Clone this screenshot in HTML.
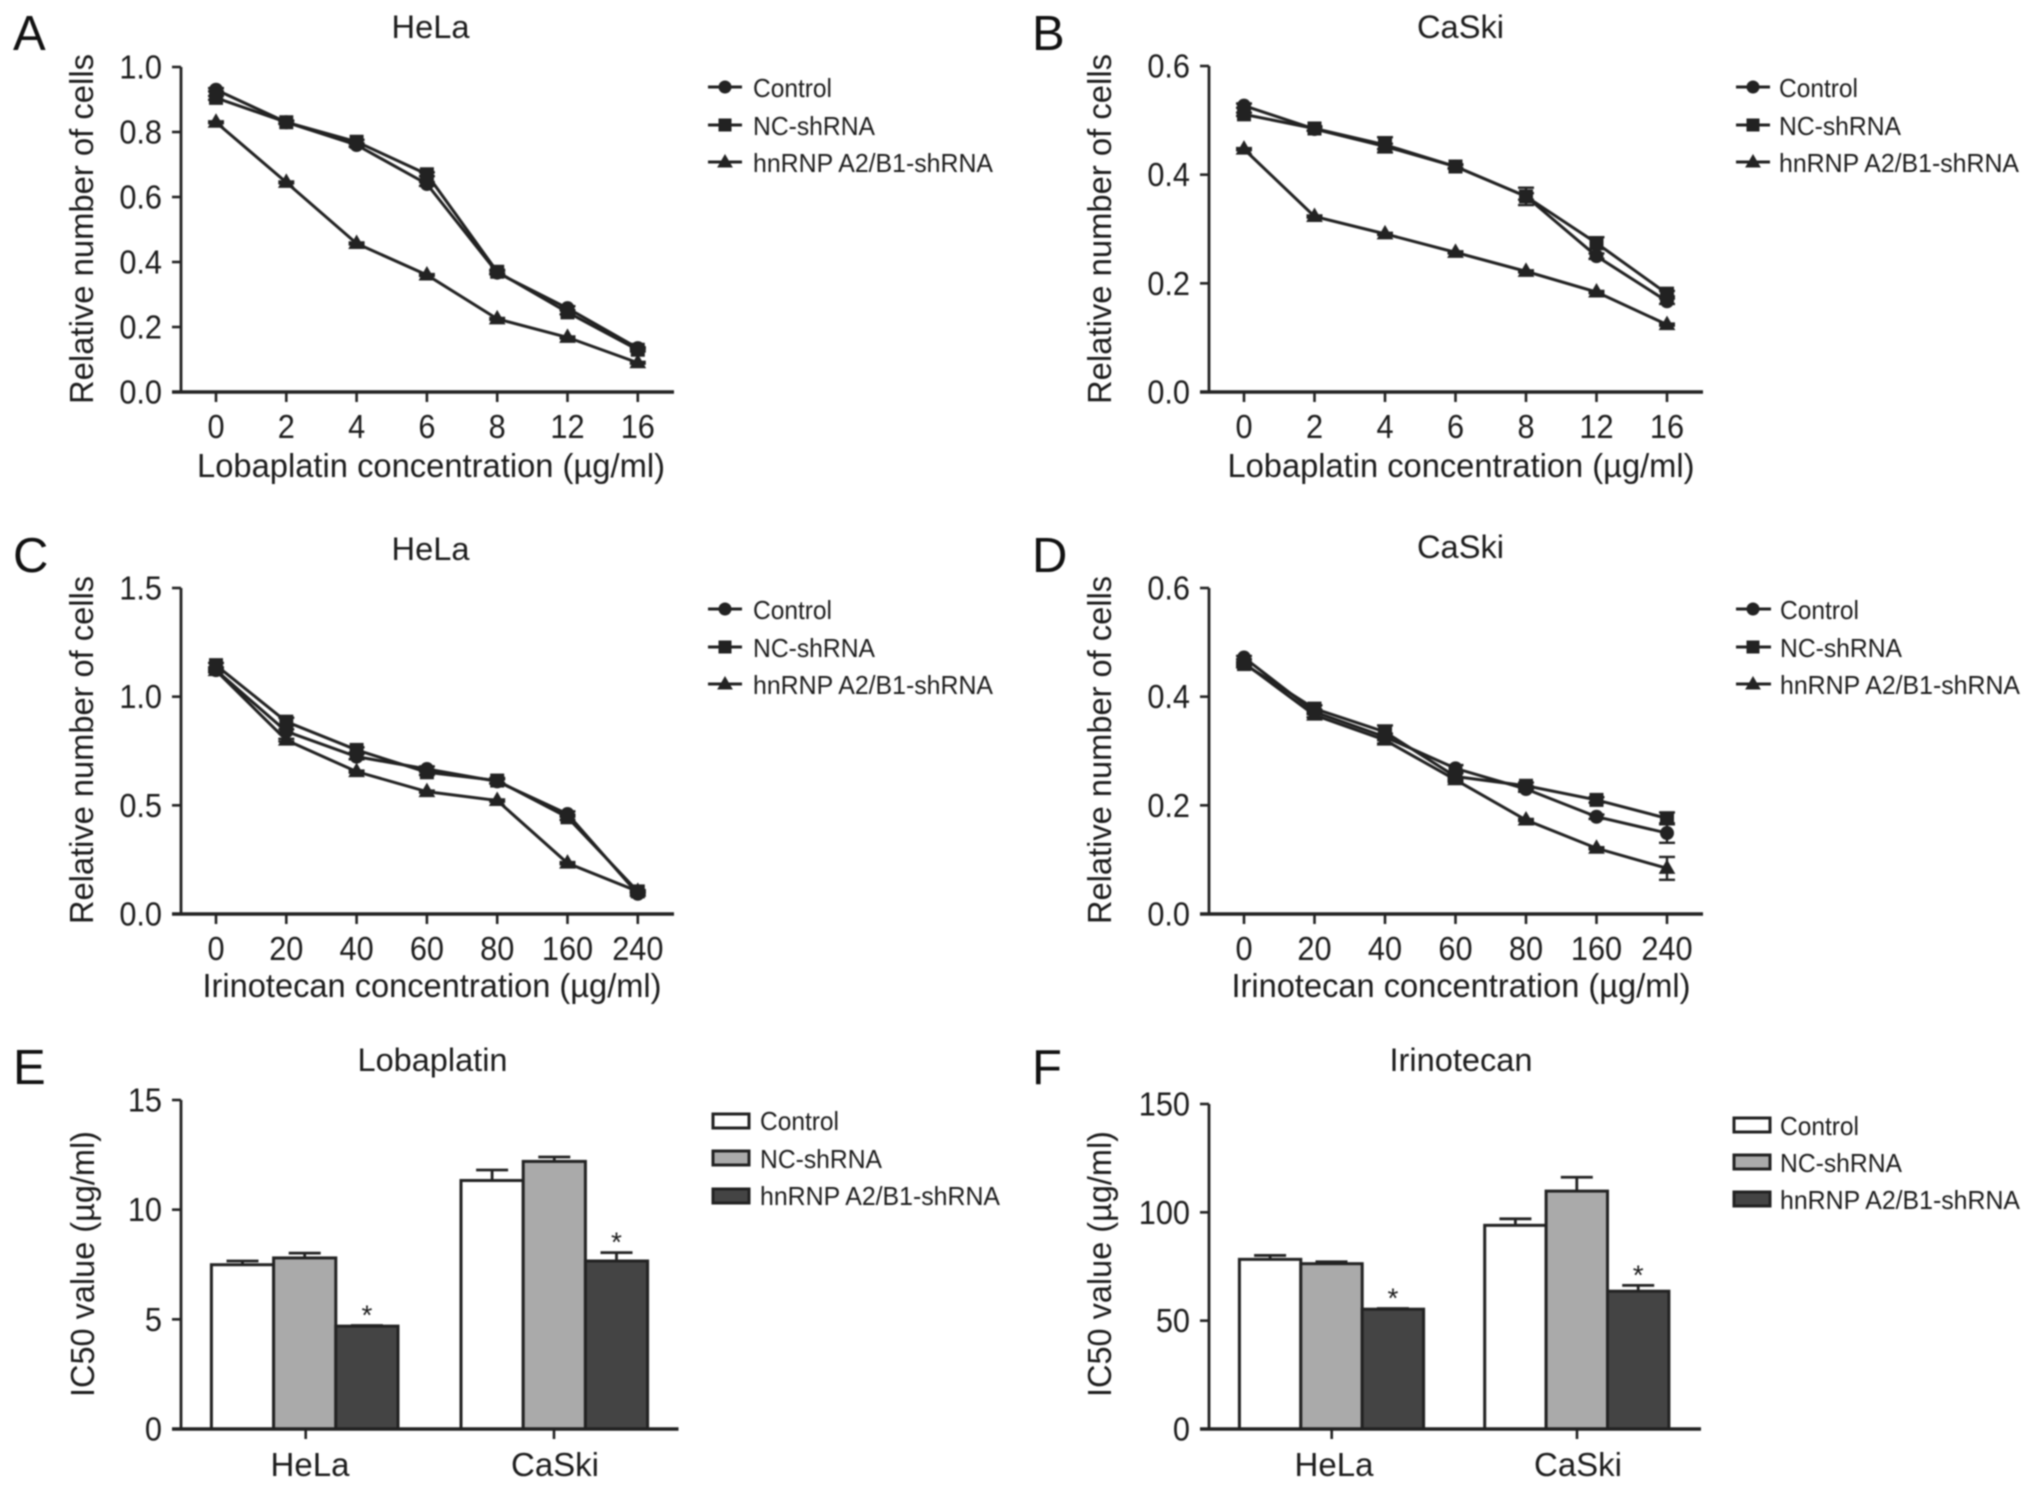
<!DOCTYPE html>
<html lang="en">
<head>
<meta charset="utf-8">
<title>IC50 and viability panels</title>
<style>
html,body{margin:0;padding:0;background:#fff;width:2032px;height:1489px;overflow:hidden}
svg{display:block;filter:blur(.7px)}
text{font-family:"Liberation Sans",Arial,sans-serif;fill:#1c1c1c}
.letter{font-size:49px;fill:#111}
.title{font-size:32px;text-anchor:middle}
.axt{font-size:33px;text-anchor:middle}
.tick{font-size:33px}
.leg{font-size:26px}
.ll{stroke:#222;stroke-width:3;fill:none}
.mk{fill:#222;stroke:#222;stroke-width:1}
</style>
</head>
<body>
<svg id="fig" width="2032" height="1489" viewBox="0 0 2032 1489" xmlns="http://www.w3.org/2000/svg">
<rect width="2032" height="1489" fill="#fff"/>

<g>
<text class="letter" x="13" y="50">A</text>
<text class="letter" x="1032" y="50">B</text>
<text class="letter" x="13" y="572">C</text>
<text class="letter" x="1032" y="572">D</text>
<text class="letter" x="13" y="1084">E</text>
<text class="letter" x="1032" y="1084">F</text>
</g>

<g>
<text class="title" x="430.5" y="38" textLength="78" lengthAdjust="spacingAndGlyphs">HeLa</text>
<text class="title" x="1460.5" y="38" textLength="87" lengthAdjust="spacingAndGlyphs">CaSki</text>
<text class="title" x="430.5" y="560" textLength="78" lengthAdjust="spacingAndGlyphs">HeLa</text>
<text class="title" x="1460.5" y="558" textLength="87" lengthAdjust="spacingAndGlyphs">CaSki</text>
<text class="title" x="432.5" y="1071" textLength="150" lengthAdjust="spacingAndGlyphs">Lobaplatin</text>
<text class="title" x="1461" y="1071" textLength="143" lengthAdjust="spacingAndGlyphs">Irinotecan</text>
</g>

<g>
<text class="axt" transform="translate(93,229) rotate(-90)" textLength="350" lengthAdjust="spacingAndGlyphs">Relative number of cells</text>
<text class="axt" transform="translate(1111,229) rotate(-90)" textLength="350" lengthAdjust="spacingAndGlyphs">Relative number of cells</text>
<text class="axt" transform="translate(93,750) rotate(-90)" textLength="348" lengthAdjust="spacingAndGlyphs">Relative number of cells</text>
<text class="axt" transform="translate(1111,750) rotate(-90)" textLength="348" lengthAdjust="spacingAndGlyphs">Relative number of cells</text>
<text class="axt" transform="translate(94,1264) rotate(-90)" textLength="266" lengthAdjust="spacingAndGlyphs">IC50 value (µg/ml)</text>
<text class="axt" transform="translate(1111,1264) rotate(-90)" textLength="266" lengthAdjust="spacingAndGlyphs">IC50 value (µg/ml)</text>
<text class="axt" x="431" y="477" textLength="468" lengthAdjust="spacingAndGlyphs">Lobaplatin concentration (µg/ml)</text>
<text class="axt" x="1461" y="477" textLength="467" lengthAdjust="spacingAndGlyphs">Lobaplatin concentration (µg/ml)</text>
<text class="axt" x="432" y="997" textLength="459" lengthAdjust="spacingAndGlyphs">Irinotecan concentration (µg/ml)</text>
<text class="axt" x="1461" y="997" textLength="459" lengthAdjust="spacingAndGlyphs">Irinotecan concentration (µg/ml)</text>
</g>

<g>
<line class="ll" x1="708" x2="742" y1="87" y2="87"/><circle class="mk" cx="725" cy="87" r="6"/><text class="leg" x="753" y="97" textLength="79" lengthAdjust="spacingAndGlyphs">Control</text>
<line class="ll" x1="708" x2="742" y1="125" y2="125"/><rect class="mk" x="719" y="119" width="12" height="12"/><text class="leg" x="753" y="135" textLength="122" lengthAdjust="spacingAndGlyphs">NC-shRNA</text>
<line class="ll" x1="708" x2="742" y1="162" y2="162"/><path class="mk" d="M725 155l7 12h-14z"/><text class="leg" x="753" y="172" textLength="240" lengthAdjust="spacingAndGlyphs">hnRNP A2/B1-shRNA</text>
</g>
<g>
<line class="ll" x1="1736" x2="1770" y1="87" y2="87"/><circle class="mk" cx="1753" cy="87" r="6"/><text class="leg" x="1779" y="97" textLength="79" lengthAdjust="spacingAndGlyphs">Control</text>
<line class="ll" x1="1736" x2="1770" y1="125" y2="125"/><rect class="mk" x="1747" y="119" width="12" height="12"/><text class="leg" x="1779" y="135" textLength="122" lengthAdjust="spacingAndGlyphs">NC-shRNA</text>
<line class="ll" x1="1736" x2="1770" y1="162" y2="162"/><path class="mk" d="M1753 155l7 12h-14z"/><text class="leg" x="1779" y="172" textLength="240" lengthAdjust="spacingAndGlyphs">hnRNP A2/B1-shRNA</text>
</g>
<g>
<line class="ll" x1="708" x2="742" y1="609" y2="609"/><circle class="mk" cx="725" cy="609" r="6"/><text class="leg" x="753" y="619" textLength="79" lengthAdjust="spacingAndGlyphs">Control</text>
<line class="ll" x1="708" x2="742" y1="647" y2="647"/><rect class="mk" x="719" y="641" width="12" height="12"/><text class="leg" x="753" y="657" textLength="122" lengthAdjust="spacingAndGlyphs">NC-shRNA</text>
<line class="ll" x1="708" x2="742" y1="684" y2="684"/><path class="mk" d="M725 677l7 12h-14z"/><text class="leg" x="753" y="694" textLength="240" lengthAdjust="spacingAndGlyphs">hnRNP A2/B1-shRNA</text>
</g>
<g>
<line class="ll" x1="1736" x2="1771" y1="609" y2="609"/><circle class="mk" cx="1753" cy="609" r="6"/><text class="leg" x="1780" y="619" textLength="79" lengthAdjust="spacingAndGlyphs">Control</text>
<line class="ll" x1="1736" x2="1771" y1="647" y2="647"/><rect class="mk" x="1747" y="641" width="12" height="12"/><text class="leg" x="1780" y="657" textLength="122" lengthAdjust="spacingAndGlyphs">NC-shRNA</text>
<line class="ll" x1="1736" x2="1771" y1="684" y2="684"/><path class="mk" d="M1753 677l7 12h-14z"/><text class="leg" x="1780" y="694" textLength="240" lengthAdjust="spacingAndGlyphs">hnRNP A2/B1-shRNA</text>
</g>
<g>
<rect x="713" y="1114" width="36" height="14" fill="#fff" stroke="#222" stroke-width="3"/><text class="leg" x="760" y="1130" textLength="79" lengthAdjust="spacingAndGlyphs">Control</text>
<rect x="713" y="1151" width="36" height="14" fill="#aaa" stroke="#222" stroke-width="3"/><text class="leg" x="760" y="1168" textLength="122" lengthAdjust="spacingAndGlyphs">NC-shRNA</text>
<rect x="713" y="1189" width="36" height="14" fill="#444" stroke="#222" stroke-width="3"/><text class="leg" x="760" y="1205" textLength="240" lengthAdjust="spacingAndGlyphs">hnRNP A2/B1-shRNA</text>
</g>
<g>
<rect x="1734" y="1118" width="36" height="14" fill="#fff" stroke="#222" stroke-width="3"/><text class="leg" x="1780" y="1135" textLength="79" lengthAdjust="spacingAndGlyphs">Control</text>
<rect x="1734" y="1155" width="36" height="14" fill="#aaa" stroke="#222" stroke-width="3"/><text class="leg" x="1780" y="1172" textLength="122" lengthAdjust="spacingAndGlyphs">NC-shRNA</text>
<rect x="1734" y="1192" width="36" height="14" fill="#444" stroke="#222" stroke-width="3"/><text class="leg" x="1780" y="1209" textLength="240" lengthAdjust="spacingAndGlyphs">hnRNP A2/B1-shRNA</text>
</g>

<g id="plots"></g>
</svg>

<script>
// ---- Data ----
const lobaplatinDoses = ['0','2','4','6','8','12','16'];
const irinotecanDoses = ['0','20','40','60','80','160','240'];
const cellLines = ['HeLa','CaSki'];

const yTicksA = ['0.0','0.2','0.4','0.6','0.8','1.0'];
const yTicksB = ['0.0','0.2','0.4','0.6'];
const yTicksC = ['0.0','0.5','1.0','1.5'];
const yTicksD = ['0.0','0.2','0.4','0.6'];
const yTicksE = ['0','5','10','15'];
const yTicksF = ['0','50','100','150'];

const aControl = [0.93,0.83,0.76,0.64,0.367,0.258,0.135];
const aNC      = [0.905,0.83,0.77,0.67,0.37,0.245,0.13];
const aHn      = [0.83,0.645,0.457,0.36,0.225,0.168,0.09];
const aControlErr = [0.005,0.004,0.005,0.006,0.005,0.006,0.003];
const aNCErr      = [0.006,0.005,0.006,0.006,0.006,0.006,0.005];
const aHnErr      = [0.003,0.003,0.003,0.003,0.003,0.003,0.003];

const bControl = [0.527,0.484,0.452,0.415,0.36,0.25,0.167];
const bNC      = [0.511,0.485,0.455,0.415,0.36,0.274,0.181];
const bHn      = [0.447,0.323,0.291,0.257,0.222,0.184,0.124];
const bControlErr = [0.004,0.003,0.005,0.003,0.006,0.005,0.005];
const bNCErr      = [0.003,0.004,0.014,0.004,0.016,0.011,0.005];
const bHnErr      = [0.002,0.002,0.002,0.002,0.002,0.002,0.002];

const cControl = [1.122,0.84,0.724,0.667,0.61,0.46,0.093];
const cNC      = [1.145,0.885,0.755,0.652,0.614,0.445,0.104];
const cHn      = [1.12,0.80,0.655,0.563,0.522,0.234,0.104];
const cControlErr = [0.01,0.01,0.012,0.012,0.01,0.012,0.006];
const cNCErr      = [0.01,0.018,0.012,0.012,0.012,0.012,0.006];
const cHnErr      = [0.005,0.006,0.005,0.005,0.005,0.005,0.005];

const dControl = [0.472,0.372,0.326,0.268,0.23,0.179,0.149];
const dNC      = [0.46,0.378,0.335,0.253,0.236,0.21,0.176];
const dHn      = [0.462,0.366,0.32,0.247,0.173,0.121,0.084];
const dControlErr = [0.003,0.004,0.006,0.006,0.005,0.004,0.018];
const dNCErr      = [0.004,0.006,0.012,0.006,0.006,0.005,0.011];
const dHnErr      = [0.002,0.004,0.006,0.004,0.002,0.002,0.021];

const eValues = [[7.49,7.8,4.69],[11.33,12.2,7.66]];
const eErrors = [[0.17,0.22,0.03],[0.48,0.2,0.38]];
const fValues = [[78.3,76.3,55.3],[94,109.8,63.6]];
const fErrors = [[1.8,0.9,0.3],[3,6.4,2.7]];

const lineSeriesNames = ['control','nc-shrna','hnrnp-shrna'];
const barFills = ['#fff','#aaa','#444'];

// ---- Layout (pixel geometry only) ----
const SVGNS = 'http://www.w3.org/2000/svg';
const plots = document.getElementById('plots');

function el(parent, tag, attrs, text){
  const n = document.createElementNS(SVGNS, tag);
  for (const k in attrs) n.setAttribute(k, attrs[k]);
  if (text !== undefined) n.textContent = text;
  parent.appendChild(n);
  return n;
}
function squeeze(node, factor){
  node.setAttribute('textLength', node.getComputedTextLength() * factor);
  node.setAttribute('lengthAdjust', 'spacingAndGlyphs');
}
function yScale(layout, maxV, v){ return layout.yBot - (v / maxV) * (layout.yBot - layout.yTop); }
function xScale(layout, i){ return layout.x0 + i * layout.step; }

function drawYAxis(g, layout, ticks){
  const maxV = Number(ticks[ticks.length - 1]);
  const axis = el(g, 'line', {x1:layout.left, x2:layout.left, y1:layout.yTop, y2:layout.yBot, stroke:'#222', 'stroke-width':2.8});
  
  
  ticks.forEach(function(label){
    const y = yScale(layout, maxV, Number(label));
    const t = el(g, 'line', {x1:layout.left - 9, x2:layout.left, y1:y, y2:y, stroke:'#222', 'stroke-width':2.6});
    
    
    const l = el(g, 'text', {x:layout.left - 19, y:y + 11.5, 'text-anchor':'end', 'class':'tick'}, label);
    
    
    squeeze(l, 0.93);
  });
  return maxV;
}
function drawXBaseline(g, layout){
  const axis = el(g, 'line', {x1:layout.left - 9, x2:layout.right, y1:layout.yBot, y2:layout.yBot, stroke:'#222', 'stroke-width':3.4});
  
  
}
function drawMarker(g, kind, x, y, name){
  let m;
  if (kind === 0) m = el(g, 'circle', {cx:x, cy:y, r:6.5, 'class':'mk'});
  else if (kind === 1) m = el(g, 'rect', {x:x - 6.5, y:y - 6.5, width:13, height:13, 'class':'mk'});
  else m = el(g, 'path', {d:'M' + x + ' ' + (y - 8) + 'l7.5 13h-15z', 'class':'mk'});
  
  
}
function drawLinePanel(id, layout, yTicks, xLabels, series, errors){
  const g = el(plots, 'g', {});
  
  
  const maxV = drawYAxis(g, layout, yTicks);
  drawXBaseline(g, layout);
  xLabels.forEach(function(label, i){
    const x = xScale(layout, i);
    const t = el(g, 'line', {x1:x, x2:x, y1:layout.yBot, y2:layout.yBot + 10, stroke:'#222', 'stroke-width':2.6});
    
    
    const l = el(g, 'text', {x:x, y:layout.labelY, 'text-anchor':'middle', 'class':'tick'}, label);
    
    
    squeeze(l, 0.93);
  });
  series.forEach(function(values, s){
    const pts = values.map(function(v, i){ return xScale(layout, i) + ',' + yScale(layout, maxV, v); }).join(' ');
    const line = el(g, 'polyline', {points:pts, fill:'none', stroke:'#222', 'stroke-width':3});
    
    
    values.forEach(function(v, i){
      const x = xScale(layout, i);
      const y1 = yScale(layout, maxV, v - errors[s][i]);
      const y2 = yScale(layout, maxV, v + errors[s][i]);
      const e = el(g, 'path', {d:'M' + (x - 8) + ' ' + y1 + 'H' + (x + 8) + 'M' + (x - 8) + ' ' + y2 + 'H' + (x + 8) + 'M' + x + ' ' + y1 + 'V' + y2, fill:'none', stroke:'#222', 'stroke-width':2.4});
      
      
      drawMarker(g, s, x, yScale(layout, maxV, v), 'point-' + lineSeriesNames[s]);
    });
  });
}
function drawBarPanel(id, layout, yTicks, groups, values, errs){
  const g = el(plots, 'g', {});
  
  
  const maxV = drawYAxis(g, layout, yTicks);
  groups.forEach(function(name, gi){
    const start = layout.groupX[gi];
    values[gi].forEach(function(v, s){
      const x = start + s * layout.barW;
      const cx = x + layout.barW / 2;
      const top = yScale(layout, maxV, v);
      const capY = yScale(layout, maxV, v + errs[gi][s]);
      const er = el(g, 'path', {d:'M' + cx + ' ' + top + 'V' + capY + 'M' + (cx - 16) + ' ' + capY + 'H' + (cx + 16), fill:'none', stroke:'#222', 'stroke-width':2.8});
      
      
      const b = el(g, 'rect', {x:x, y:top, width:layout.barW, height:layout.yBot - top, fill:barFills[s], stroke:'#222', 'stroke-width':3});
      
      
      if (s === 2) {
        const star = el(g, 'text', {x:cx, y:capY - 1, 'text-anchor':'middle', style:'font-size:28px'}, '*');
        
        
      }
    });
    const tx = layout.tickX[gi];
    const t = el(g, 'line', {x1:tx, x2:tx, y1:layout.yBot, y2:layout.yBot + 10, stroke:'#222', 'stroke-width':2.6});
    
    
    const l = el(g, 'text', {x:layout.labelX[gi], y:layout.labelY, 'text-anchor':'middle', 'class':'tick', style:'font-size:33px'}, name);
    
    
    squeeze(l, 1.0);
  });
  drawXBaseline(g, layout);
}

drawLinePanel('a', {left:181, right:674, x0:216, step:70.3, yTop:67, yBot:392, labelY:438}, yTicksA, lobaplatinDoses, [aControl,aNC,aHn], [aControlErr,aNCErr,aHnErr]);
drawLinePanel('b', {left:1209, right:1703, x0:1244, step:70.5, yTop:66, yBot:392, labelY:438}, yTicksB, lobaplatinDoses, [bControl,bNC,bHn], [bControlErr,bNCErr,bHnErr]);
drawLinePanel('c', {left:181, right:674, x0:216, step:70.3, yTop:588, yBot:914, labelY:960}, yTicksC, irinotecanDoses, [cControl,cNC,cHn], [cControlErr,cNCErr,cHnErr]);
drawLinePanel('d', {left:1209, right:1703, x0:1244, step:70.5, yTop:588, yBot:914, labelY:960}, yTicksD, irinotecanDoses, [dControl,dNC,dHn], [dControlErr,dNCErr,dHnErr]);
drawBarPanel('e', {left:181, right:678.5, yTop:1100, yBot:1429, groupX:[211.4,461], barW:62.2, tickX:[305.7,554], labelX:[310,555], labelY:1476}, yTicksE, cellLines, eValues, eErrors);
drawBarPanel('f', {left:1209, right:1701, yTop:1104, yBot:1429, groupX:[1239.4,1484.7], barW:61.4, tickX:[1331.7,1577], labelX:[1334,1578], labelY:1476}, yTicksF, cellLines, fValues, fErrors);
</script>
</body>
</html>
